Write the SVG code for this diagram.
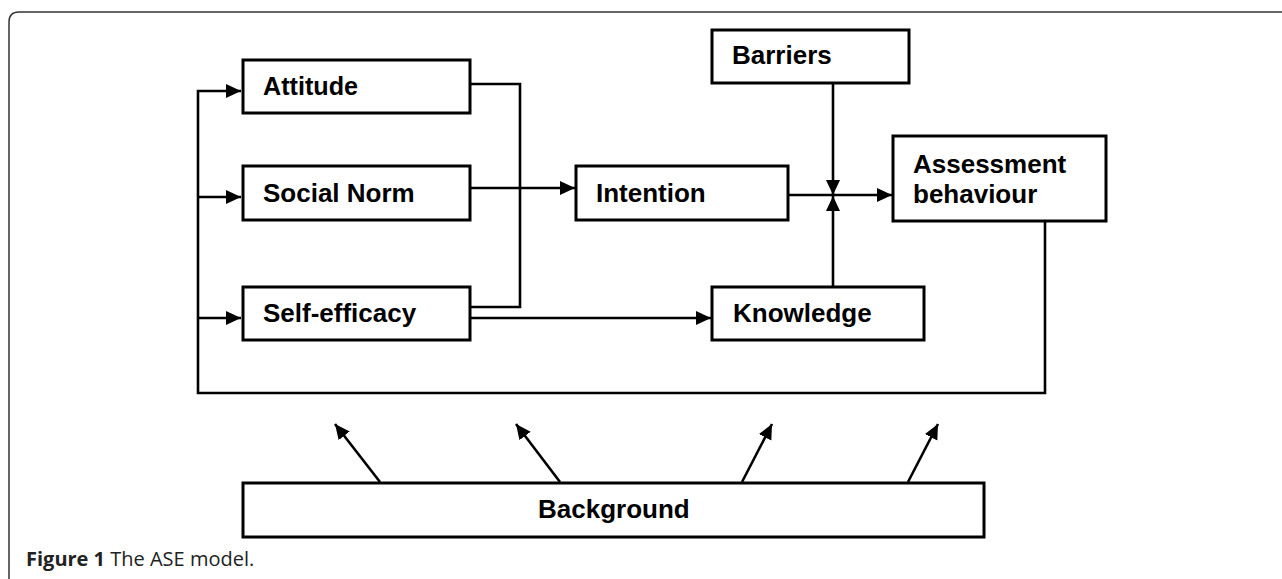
<svg xmlns="http://www.w3.org/2000/svg" width="1282" height="579" viewBox="0 0 1282 579">
<defs>
<style>
.box{fill:#fff;stroke:#000;stroke-width:3}
.lbl{font-family:"Liberation Sans",Arial,sans-serif;font-weight:bold;font-size:26px;fill:#000}
.con{fill:none;stroke:#000;stroke-width:2.6}
.cap{font-family:"Open Sans","Noto Sans",sans-serif;font-size:20px;fill:#222}
</style>
<marker id="ah" markerUnits="userSpaceOnUse" markerWidth="16" markerHeight="16" refX="15" refY="7" orient="auto">
<path d="M0,0 L15,7 L0,14 z" fill="#000"/>
</marker>
</defs>
<rect width="1282" height="579" fill="#fff"/>
<path d="M9,579 V22 Q9,12 19,12 H1282" fill="none" stroke="#333" stroke-width="1.5"/>
<g id="connectors">
<path class="con" d="M1045,221 V393 H198 V91 H241" marker-end="url(#ah)"/>
<path class="con" d="M198,197 H241" marker-end="url(#ah)"/>
<path class="con" d="M198,318 H241" marker-end="url(#ah)"/>
<path class="con" d="M470,84 H520 V307 H470"/>
<path class="con" d="M470,188 H575" marker-end="url(#ah)"/>
<path class="con" d="M470,318 H711" marker-end="url(#ah)"/>
<path class="con" d="M788,195 H892" marker-end="url(#ah)"/>
<path class="con" d="M833,83 V195" marker-end="url(#ah)"/>
<path class="con" d="M833,287 V196" marker-end="url(#ah)"/>
<path class="con" d="M380,482 L335,424" marker-end="url(#ah)"/>
<path class="con" d="M560,482 L516,424" marker-end="url(#ah)"/>
<path class="con" d="M742,482 L772,424" marker-end="url(#ah)"/>
<path class="con" d="M908,482 L938,424" marker-end="url(#ah)"/>
</g>
<g id="attitude"><rect class="box" x="243" y="60" width="227" height="53"/><text class="lbl" x="263" y="95" textLength="95" lengthAdjust="spacingAndGlyphs">Attitude</text></g>
<g id="social-norm"><rect class="box" x="243" y="166" width="227" height="54"/><text class="lbl" x="263" y="202">Social Norm</text></g>
<g id="self-efficacy"><rect class="box" x="243" y="287" width="227" height="53"/><text class="lbl" x="263" y="322">Self-efficacy</text></g>
<g id="intention"><rect class="box" x="576" y="166" width="212" height="54"/><text class="lbl" x="596" y="202">Intention</text></g>
<g id="barriers"><rect class="box" x="712" y="30" width="197" height="53"/><text class="lbl" x="732" y="64">Barriers</text></g>
<g id="assessment"><rect class="box" x="893" y="136" width="213" height="85"/><text class="lbl" x="913" y="173">Assessment</text><text class="lbl" x="913" y="203">behaviour</text></g>
<g id="knowledge"><rect class="box" x="712" y="287" width="212" height="53"/><text class="lbl" x="733" y="322">Knowledge</text></g>
<g id="background"><rect class="box" x="243" y="483" width="741" height="54"/><text class="lbl" x="538" y="518">Background</text></g>
<text class="cap" x="26" y="566"><tspan font-weight="bold">Figure 1</tspan> The ASE model.</text>
</svg>
